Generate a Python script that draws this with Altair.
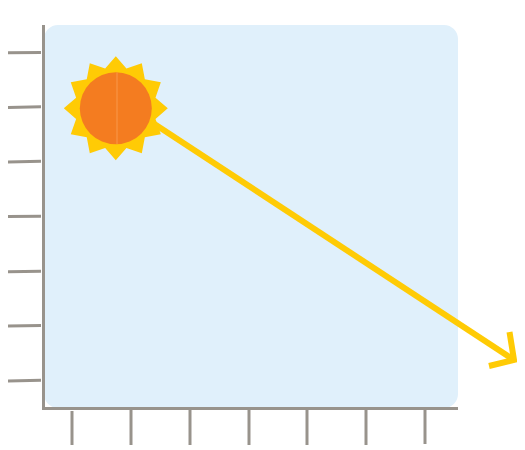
import math
import altair as alt
import pandas as pd

PAGE_X = [8, 517]
PAGE_Y = [445, 8]

panel_x = [44]; panel_x2 = [458]; panel_y = [25]; panel_y2 = [408]

ytick_x = [6, 6, 6, 6, 6, 6, 8]
ytick_x2 = [41, 41, 41, 41, 41, 41, 41]
ytick_y = [52.7, 107.5, 162, 216.5, 271.8, 326, 381]
ytick_y2 = [52.5, 106.8, 161.2, 216.3, 271.2, 325.5, 380.3]

xtick_x = [72, 131, 190, 249, 307, 366, 425]
xtick_x2 = [72, 131, 190, 249, 307, 366, 425]
xtick_y = [411, 410, 410, 410, 410, 410, 410]
xtick_y2 = [446, 446, 446, 446, 445, 445, 444]

axis_x = [43.5, 42]
axis_x2 = [43.5, 458]
axis_y = [25, 408.5]
axis_y2 = [409, 408.5]

sun_x = [115.8]; sun_y = [108.3]

ray_x = [130]; ray_y = [108]; ray_x2 = [514]; ray_y2 = [360]

head_x = [489, 514, 509.5]
head_y = [366, 360, 332]
head_order = [0, 1, 2]

seam_x = [117]; seam_y = [72.5]; seam_y2 = [144]

# twelve-pointed star as a custom symbol
pts = []
for i in range(24):
    a = math.radians(i * 15)
    r = 1 if i % 2 == 0 else 0.79
    pts.append(f"{r*math.sin(a):.4f},{-r*math.cos(a):.4f}")
STAR = "M" + "L".join(pts) + "Z"

xs = alt.Scale(domain=PAGE_X, nice=False, zero=False)
ys = alt.Scale(domain=PAGE_Y, nice=False, zero=False)
X = lambda f: alt.X(f, type="quantitative", scale=xs, axis=None)
Y = lambda f: alt.Y(f, type="quantitative", scale=ys, axis=None)
GREY = "#98938c"
YELLOW = "#ffcb05"
ORANGE = "#f47c20"

segs = alt.Chart(pd.DataFrame({"x": panel_x, "x2": panel_x2, "y": panel_y, "y2": panel_y2})).mark_rect(
    color="#e0f0fb", cornerRadius=14
).encode(x=X("x"), x2="x2", y=Y("y"), y2="y2")

ticks = pd.DataFrame({
    "x": ytick_x + xtick_x + axis_x,
    "x2": ytick_x2 + xtick_x2 + axis_x2,
    "y": ytick_y + xtick_y + axis_y,
    "y2": ytick_y2 + xtick_y2 + axis_y2,
})
rules = alt.Chart(ticks).mark_rule(color=GREY, strokeWidth=3).encode(x=X("x"), x2="x2", y=Y("y"), y2="y2")

ray = alt.Chart(pd.DataFrame({"x": ray_x, "x2": ray_x2, "y": ray_y, "y2": ray_y2})).mark_rule(
    color=YELLOW, strokeWidth=6
).encode(x=X("x"), x2="x2", y=Y("y"), y2="y2")

head = alt.Chart(pd.DataFrame({"x": head_x, "y": head_y, "o": head_order})).mark_line(
    color=YELLOW, strokeWidth=6, strokeJoin="miter"
).encode(x=X("x"), y=Y("y"), order="o:O")

sun_df = pd.DataFrame({"x": sun_x, "y": sun_y})
star = alt.Chart(sun_df).mark_point(
    shape=STAR, filled=True, color=YELLOW, opacity=1, strokeWidth=0, size=10816
).encode(x=X("x"), y=Y("y"))
disc = alt.Chart(sun_df).mark_point(
    shape="circle", filled=True, color=ORANGE, opacity=1, strokeWidth=0, size=5184
).encode(x=X("x"), y=Y("y"))
seam = alt.Chart(pd.DataFrame({"x": seam_x, "y": seam_y, "y2": seam_y2})).mark_rule(
    color="#f9984a", strokeWidth=1
).encode(x=X("x"), y=Y("y"), y2="y2")

chart = (segs + rules + ray + head + star + disc + seam).properties(
    width=509, height=437, padding=0, autosize=alt.AutoSizeParams(type="none")
).configure_view(stroke=None)

chart.save("out.html", embed_options={"renderer": "svg", "actions": False})
